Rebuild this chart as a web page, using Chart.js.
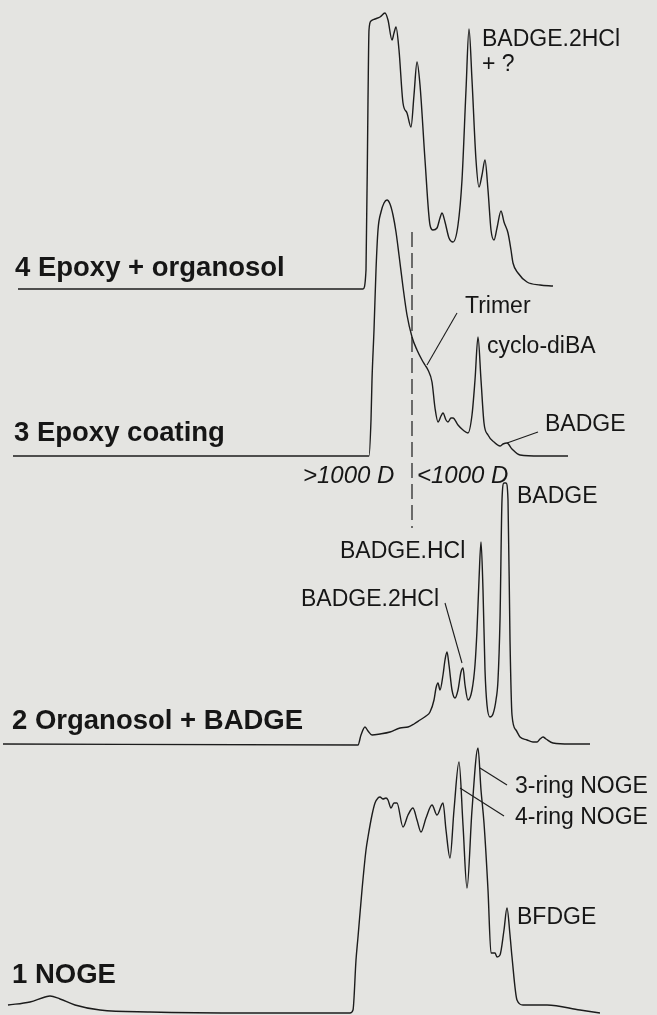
<!DOCTYPE html>
<html><head><meta charset="utf-8">
<script src="https://cdn.jsdelivr.net/npm/chart.js@4.4.1/dist/chart.umd.min.js"></script>
<style>html,body{margin:0;padding:0;background:#e4e4e1;}canvas{display:block;}</style>
</head><body>
<canvas id="c" width="657" height="1015"></canvas>
<script>
// Retention time (arbitrary units) and detector response for each chromatogram
const trace1Time = [0.8,3.0,4.5,5.0,6.0,7.5,10.0,15.0,25.0,35.0,35.3,35.6,35.8,36.2,36.6,36.8,37.2,37.5,37.8,38.0,38.3,38.6,38.8,39.1,39.4,39.7,40.3,40.8,41.3,41.7,42.1,42.6,43.2,43.7,44.3,44.6,45.0,45.4,45.9,46.3,46.7,47.2,47.8,48.1,48.4,48.8,49.1,49.5,49.7,50.0,50.4,50.7,51.0,51.2,51.7,52.3,54.7,58.0,60.0];
const trace1Signal = [0.5,0.8,1.3,1.4,1.1,0.5,0,-0.2,-0.3,-0.3,0,5.0,7.3,12.0,16.0,17.3,19.5,20.7,21.2,21.3,21.1,21.2,21.0,20.2,20.7,20.7,18.3,19.5,20.2,19.0,17.8,19.2,20.5,19.5,20.7,18.0,15.2,20.0,24.8,18.5,12.2,20.0,26.2,22.0,18.7,12.0,5.7,5.7,5.3,5.5,8.0,10.2,7.5,5.3,1.0,0.5,0.5,0,-0.3];

const trace2Time = [0.3,35.8,36.1,36.5,36.8,37.2,38.0,39.0,40.0,40.8,41.4,42.0,42.6,43.0,43.4,43.6,43.8,44.0,44.3,44.5,44.7,44.9,45.2,45.5,45.8,46.1,46.3,46.5,46.8,47.2,47.5,47.7,47.9,48.1,48.3,48.5,48.7,49.0,49.3,49.6,49.8,50.0,50.2,50.4,50.6,50.8,51.0,51.2,51.6,52.0,52.7,53.3,53.7,54.0,54.3,54.6,55.3,57.0,59.0];
const trace2Signal = [0,-0.1,0.9,1.7,1.3,0.9,1.0,1.2,1.6,1.7,2.0,2.4,2.8,3.2,4.4,5.6,6.1,5.4,6.9,8.4,9.2,7.9,5.4,4.6,5.4,7.2,7.6,5.9,4.4,5.4,7.9,11.4,16.4,20.2,15.4,7.4,3.9,2.7,3.0,4.4,6.4,12.4,24.4,26.1,26.1,24.4,10.4,2.9,1.4,0.7,0.4,0.2,0.2,0.5,0.7,0.5,0.1,0,0];

const trace3Time = [1.3,36.9,37.1,37.2,37.4,37.6,37.8,38.1,38.4,38.7,39.0,39.3,39.6,39.9,40.3,40.7,41.2,41.7,42.2,42.5,42.8,43.2,43.5,43.8,44.1,44.3,44.6,44.8,45.1,45.3,45.8,46.3,46.8,47.2,47.5,47.8,48.1,48.4,48.8,49.4,50.0,50.3,50.7,51.2,52.0,54.0,56.8];
const trace3Signal = [0,0,3.6,7.6,12.6,18.6,22.6,24.4,25.3,25.6,25.2,24.1,22.4,20.1,16.9,14.1,11.9,10.6,9.6,9.1,8.6,7.4,4.8,3.4,4.0,4.3,3.6,3.4,3.8,3.8,3.1,2.6,2.3,4.1,7.6,11.9,7.6,3.3,2.1,1.4,1.0,1.2,1.3,0.7,0.1,0,0];

const trace4Time = [1.8,36.3,36.6,36.8,36.9,37.1,37.5,38.0,38.5,38.8,39.2,39.4,39.6,39.9,40.3,40.7,41.1,41.4,41.7,42.0,42.5,43.0,43.3,43.7,44.0,44.2,44.5,44.9,45.3,45.8,46.2,46.6,46.9,47.2,47.6,47.9,48.2,48.5,48.8,49.1,49.4,49.7,50.1,50.4,50.8,51.1,51.3,51.8,52.7,54.0,55.3];
const trace4Signal = [0,0,1.9,18.9,25.9,26.8,27.0,27.2,27.6,26.9,24.9,25.6,26.2,23.9,18.6,17.6,16.2,19.4,22.7,20.4,12.9,6.4,5.9,6.1,7.1,7.6,6.7,5.1,4.7,6.4,10.9,19.9,26.0,20.9,12.9,10.2,11.4,12.9,9.9,5.9,4.9,6.1,7.8,6.7,5.6,3.9,2.6,1.6,0.7,0.4,0.3];

// Vertical stacking offsets for traces 1..4
const traceOffsets = [0.5, 27.1, 55.9, 72.6];
const traceNames = ['1 NOGE', '2 Organosol + BADGE', '3 Epoxy coating', '4 Epoxy + organosol'];
const traceNameX = [1.2, 1.2, 1.4, 1.5];
const traceNameY = [3.2, 28.6, 57.4, 73.9];

// Peak annotations
const peakLabels = ['BADGE.2HCl', '+ ?', 'Trimer', 'cyclo-diBA', 'BADGE', 'BADGE', 'BADGE.HCl', 'BADGE.2HCl', '3-ring NOGE', '4-ring NOGE', 'BFDGE'];
const peakLabelX = [48.2, 48.2, 46.5, 48.7, 54.5, 51.7, 34.0, 30.1, 51.5, 51.5, 51.7];
const peakLabelY = [97.5, 95.0, 70.8, 66.8, 59.0, 51.8, 46.3, 41.5, 22.8, 19.7, 9.7];

// Leader lines (from label to peak)
const leaderFromX = [45.7, 53.8, 44.5, 50.7, 50.4];
const leaderFromY = [70.2, 58.3, 41.2, 23.0, 19.9];
const leaderToX = [42.7, 50.7, 46.2, 48.0, 46.0];
const leaderToY = [65.0, 57.2, 35.2, 24.7, 22.7];

// Molecular mass cut-off
const massLabels = ['>1000 D', '<1000 D'];
const massLabelX = [30.3, 41.7];
const massLabelY = 53.9;
const cutoffTime = 41.2;
const cutoffSpan = [48.7, 78.3];

const INK = '#1c1c1c';
const times = [trace1Time, trace2Time, trace3Time, trace4Time];
const signals = [trace1Signal, trace2Signal, trace3Signal, trace4Signal];

const datasets = [];
for (let k = 0; k < 4; k++) {
  datasets.push({
    label: traceNames[k],
    data: times[k].map((t, i) => ({x: t, y: signals[k][i] + traceOffsets[k]})),
    borderColor: INK, borderWidth: 1.4, pointRadius: 0,
    cubicInterpolationMode: 'monotone', fill: false
  });
}
for (let k = 0; k < leaderFromX.length; k++) {
  datasets.push({
    label: 'leader' + k,
    data: [{x: leaderFromX[k], y: leaderFromY[k]}, {x: leaderToX[k], y: leaderToY[k]}],
    borderColor: INK, borderWidth: 1.1, pointRadius: 0, tension: 0
  });
}
datasets.push({
  label: 'cutoff',
  data: [{x: cutoffTime, y: cutoffSpan[1]}, {x: cutoffTime, y: cutoffSpan[0]}],
  borderColor: INK, borderWidth: 1.2, pointRadius: 0, borderDash: [15, 6]
});

const textPlugin = {
  id: 'texts',
  beforeDraw(chart) {
    const c = chart.ctx;
    c.save(); c.fillStyle = '#e4e4e1'; c.fillRect(0, 0, chart.width, chart.height); c.restore();
  },
  afterDatasetsDraw(chart) {
    const c = chart.ctx, sx = chart.scales.x, sy = chart.scales.y;
    c.save();
    c.fillStyle = '#161616';
    c.textAlign = 'left';
    c.textBaseline = 'alphabetic';
    c.font = 'bold 27.5px "Liberation Sans", Arial, sans-serif';
    traceNames.forEach((n, i) => c.fillText(n, sx.getPixelForValue(traceNameX[i]), sy.getPixelForValue(traceNameY[i])));
    c.textBaseline = 'middle';
    c.font = '23px "Liberation Sans", Arial, sans-serif';
    peakLabels.forEach((n, i) => c.fillText(n, sx.getPixelForValue(peakLabelX[i]), sy.getPixelForValue(peakLabelY[i])));
    c.font = 'italic 24px "Liberation Sans", Arial, sans-serif';
    massLabels.forEach((n, i) => c.fillText(n, sx.getPixelForValue(massLabelX[i]), sy.getPixelForValue(massLabelY)));
    c.restore();
  }
};

new Chart(document.getElementById('c'), {
  type: 'line',
  data: {datasets},
  options: {
    responsive: false, animation: false, devicePixelRatio: 1,
    layout: {padding: 0},
    plugins: {legend: {display: false}, tooltip: {enabled: false}},
    scales: {
      x: {type: 'linear', min: 0, max: 65.7, display: false},
      y: {type: 'linear', min: 0, max: 101.5, display: false}
    }
  },
  plugins: [textPlugin]
});
</script>
</body></html>
